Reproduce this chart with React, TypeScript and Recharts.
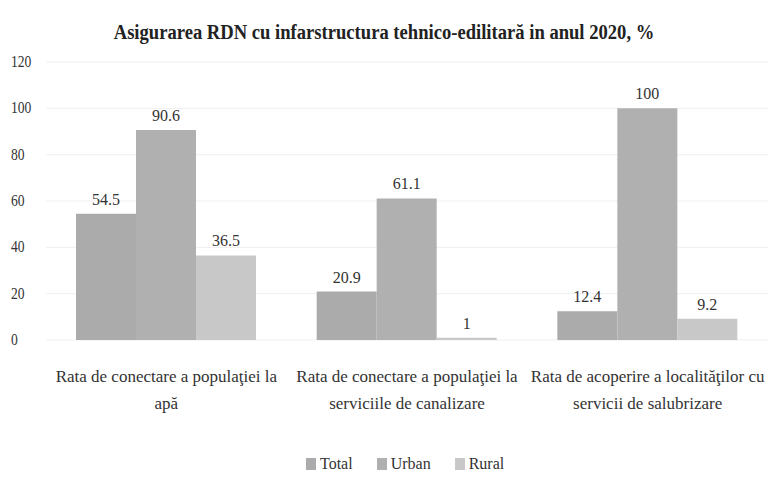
import React from "react";
import { BarChart, Bar, XAxis, YAxis, CartesianGrid, LabelList } from "recharts";

const title = "Asigurarea RDN cu infarstructura tehnico-edilitară in anul 2020, %";
const categories = [
  "Rata de conectare a populaţiei la\napă",
  "Rata de conectare a populaţiei la\nserviciile de canalizare",
  "Rata de acoperire a localităţilor cu\nservicii de salubrizare",
];
const totalValues = [54.5, 20.9, 12.4];
const urbanValues = [90.6, 61.1, 100];
const ruralValues = [36.5, 1, 9.2];
const yTicks = [0, 20, 40, 60, 80, 100, 120];
const seriesNames = ["Total", "Urban", "Rural"];
const seriesColors = ["#ababab", "#b0b0b0", "#c8c8c8"];

const data = categories.map((c, i) => ({
  name: c,
  Total: totalValues[i],
  Urban: urbanValues[i],
  Rural: ruralValues[i],
}));

const FONT = "'Liberation Serif', 'DejaVu Serif', serif";
const TEXT = "#333";

const YTick = (props: any) => {
  const { y, payload } = props;
  return (
    <text
      x={0}
      y={0}
      transform={`translate(11, ${y}) scale(0.8, 1)`}
      dy={5}
      textAnchor="start"
      fontFamily={FONT}
      fontSize={17}
      fill={TEXT}
    >
      {payload.value}
    </text>
  );
};

const XTick = (props: any) => {
  const { x, payload } = props;
  const lines = String(payload.value).split("\n");
  return (
    <g>
      {lines.map((l, i) => (
        <text key={i} x={x} y={382 + i * 27} textAnchor="middle" fontFamily={FONT} fontSize={17} fill={TEXT}>
          {l}
        </text>
      ))}
    </g>
  );
};

export default function App() {
  return (
    <div style={{ position: "absolute", left: 0, top: 0, width: 768, height: 479, background: "#fff" }}>
      <div
        style={{
          position: "absolute",
          left: 0,
          top: 19,
          width: 768,
          textAlign: "center",
          fontFamily: FONT,
          fontSize: 20,
          fontWeight: "bold",
          color: "#222",
          lineHeight: "26px",
          transform: "scaleX(0.93)",
          transformOrigin: "384px 0",
        }}
      >
        {title}
      </div>
      <BarChart
        width={768}
        height={479}
        data={data}
        margin={{ top: 62, right: 0, left: 0, bottom: 0 }}
        barCategoryGap={30}
        barGap={0}
      >
        <CartesianGrid vertical={false} stroke="#efefef" />
        <XAxis
          dataKey="name"
          axisLine={false}
          tickLine={false}
          height={139}
          interval={0}
          tick={<XTick />}
        />
        <YAxis
          domain={[0, 120]}
          ticks={yTicks}
          width={46}
          axisLine={false}
          tickLine={false}
          tick={<YTick />}
          interval={0}
        />
        {seriesNames.map((s, i) => (
          <Bar key={s} dataKey={s} fill={seriesColors[i]} isAnimationActive={false}>
            <LabelList dataKey={s} position="top" offset={9} fontFamily={FONT} fontSize={16} fill={TEXT} />
          </Bar>
        ))}
      </BarChart>
      <div
        style={{
          position: "absolute",
          left: 306,
          top: 455,
          display: "flex",
          fontFamily: FONT,
          fontSize: 16,
          color: TEXT,
        }}
      >
        {seriesNames.map((s, i) => (
          <div key={s} style={{ display: "flex", alignItems: "center", marginLeft: i === 0 ? 0 : 24 }}>
            <span style={{ display: "inline-block", width: 10, height: 12, background: seriesColors[i], marginRight: 4 }} />
            <span>{s}</span>
          </div>
        ))}
      </div>
    </div>
  );
}
